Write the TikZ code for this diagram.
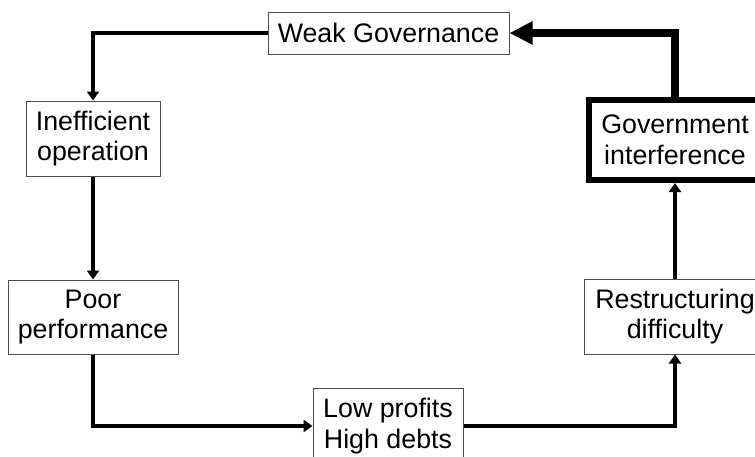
\documentclass[tikz,border=0pt]{standalone}
\usepackage{fontspec}
\setmainfont{Liberation Sans}
\usetikzlibrary{arrows.meta}

\def\unitpx{1pt}

\begin{document}
\begin{tikzpicture}[%
	x=\unitpx, y=-\unitpx,%
	box/.style ={draw=black!70, line width=1pt, fill=white, align=center, inner sep=0pt, font=\fontsize{26.8}{30.5}\selectfont},%
	bigbox/.style ={box, draw=black, line width=6pt},%
	conn/.style ={line width=4.5pt, -{Triangle[width=12pt,length=9pt]}},%
	bigconn/.style ={line width=8pt, -{Triangle[width=22pt,length=23pt]}},%
	]
	\useasboundingbox (0,0) rectangle (755,456);
	\clip (0,0) rectangle (755,456);
%%% boxes
	\node [box, minimum width=241pt, minimum height=42pt] (weak) at (388.5,33) {Weak Governance};
	\node [box, minimum width=134pt, minimum height=75pt] (ineff) at (93,138.5) {Inefficient\\operation};
	\node [box, minimum width=170pt, minimum height=74pt] (poor) at (93,317) {Poor\\performance};
	\node [box, minimum width=150pt, minimum height=75pt] (low) at (388,426) {Low profits\\High debts};
	\node [box, minimum width=182pt, minimum height=75pt] (restr) at (675,316.5) {Restructuring\\difficulty};
	\node [bigbox, minimum width=172pt, minimum height=80pt] (govt) at (675,140) {Government\\interference};
%%% boxes
%%% arrows
	\draw [conn] (weak.west) -| (ineff.north);
	\draw [conn] (ineff) -- (poor);
	\draw [conn] (poor.south) |- (low.west);
	\draw [conn] (low.east) -| (restr.south);
	\draw [conn] (restr) -- (govt);
	\draw [bigconn] (govt.north) |- (weak.east);
%%% arrows
\end{tikzpicture}
\end{document}
